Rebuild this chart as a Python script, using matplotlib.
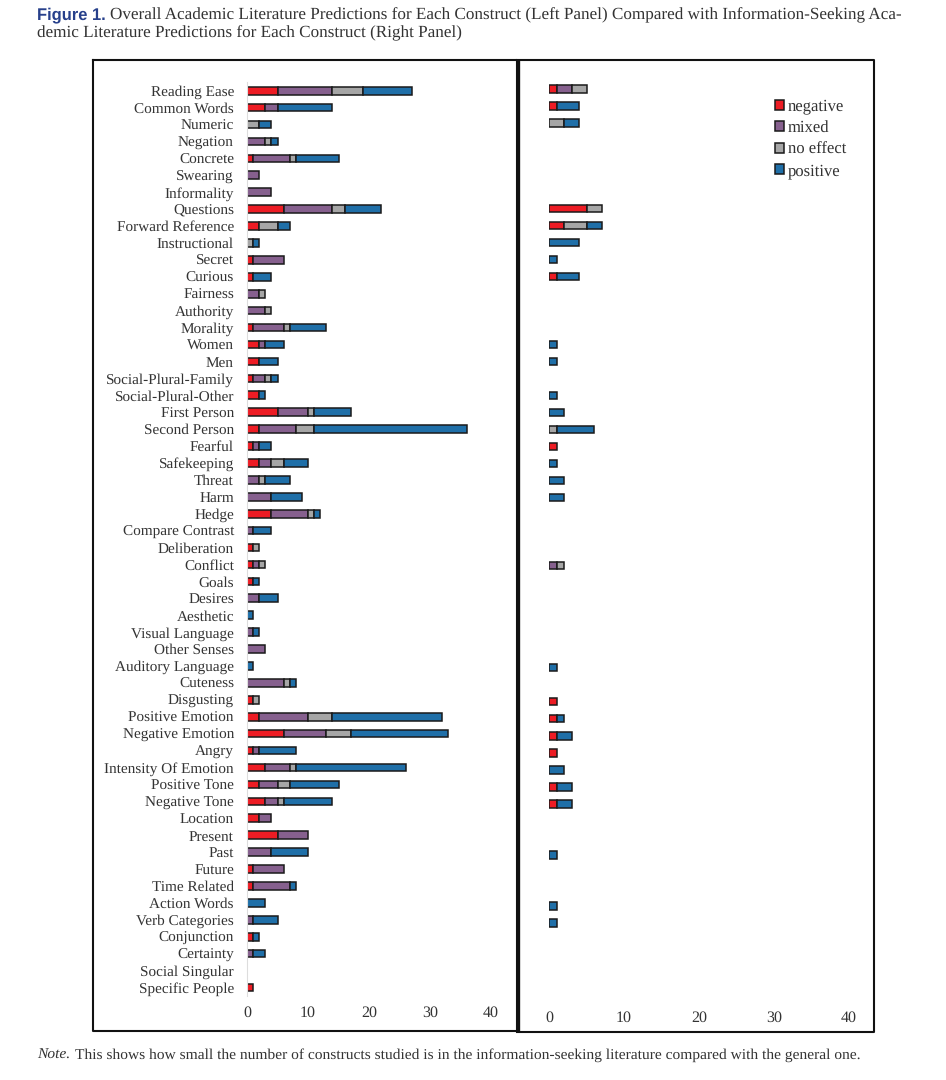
import numpy as np
import matplotlib
matplotlib.use("Agg")
import matplotlib.pyplot as plt
from matplotlib.patches import Patch

plt.rcParams["font.family"] = ["Liberation Serif", "DejaVu Serif"]
plt.rcParams["text.hinting"] = "no_hinting"

# Reihenfolge von oben nach unten
constructs = ["Reading Ease", "Common Words", "Numeric", "Negation", "Concrete", "Swearing",
              "Informality", "Questions", "Forward Reference", "Instructional", "Secret",
              "Curious", "Fairness", "Authority", "Morality", "Women", "Men",
              "Social-Plural-Family", "Social-Plural-Other", "First Person", "Second Person",
              "Fearful", "Safekeeping", "Threat", "Harm", "Hedge", "Compare Contrast",
              "Deliberation", "Conflict", "Goals", "Desires", "Aesthetic", "Visual Language",
              "Other Senses", "Auditory Language", "Cuteness", "Disgusting", "Positive Emotion",
              "Negative Emotion", "Angry", "Intensity Of Emotion", "Positive Tone",
              "Negative Tone", "Location", "Present", "Past", "Future", "Time Related",
              "Action Words", "Verb Categories", "Conjunction", "Certainty", "Social Singular",
              "Specific People"]

# Linkes Panel
left_negative = [5, 3, 0, 0, 1, 0, 0, 6, 2, 0, 1, 1, 0, 0, 1, 2, 2, 1, 2, 5, 2, 1, 2, 0, 0, 4, 0,
                 1, 1, 1, 0, 0, 0, 0, 0, 0, 1, 2, 6, 1, 3, 2, 3, 2, 5, 0, 1, 1, 0, 0, 1, 0, 0, 1]
left_mixed = [9, 2, 0, 3, 6, 2, 4, 8, 0, 0, 5, 0, 2, 3, 5, 1, 0, 2, 0, 5, 6, 1, 2, 2, 4, 6, 1,
              0, 1, 0, 2, 0, 1, 3, 0, 6, 0, 8, 7, 1, 4, 3, 2, 2, 5, 4, 5, 6, 0, 1, 0, 1, 0, 0]
left_noeffect = [5, 0, 2, 1, 1, 0, 0, 2, 3, 1, 0, 0, 1, 1, 1, 0, 0, 1, 0, 1, 3, 0, 2, 1, 0, 1, 0,
                 1, 1, 0, 0, 0, 0, 0, 0, 1, 1, 4, 4, 0, 1, 2, 1, 0, 0, 0, 0, 0, 0, 0, 0, 0, 0, 0]
left_positive = [8, 9, 2, 1, 7, 0, 0, 6, 2, 1, 0, 3, 0, 0, 6, 3, 3, 1, 1, 6, 25, 2, 4, 4, 5, 1, 3,
                 0, 0, 1, 3, 1, 1, 0, 1, 1, 0, 18, 16, 6, 18, 8, 8, 0, 0, 6, 0, 1, 3, 4, 1, 2, 0, 0]

# Rechtes Panel
right_negative = [1, 1, 0, 0, 0, 0, 0, 5, 2, 0, 0, 1, 0, 0, 0, 0, 0, 0, 0, 0, 0, 1, 0, 0, 0, 0, 0,
                  0, 0, 0, 0, 0, 0, 0, 0, 0, 1, 1, 1, 1, 0, 1, 1, 0, 0, 0, 0, 0, 0, 0, 0, 0, 0, 0]
right_mixed = [2, 0, 0, 0, 0, 0, 0, 0, 0, 0, 0, 0, 0, 0, 0, 0, 0, 0, 0, 0, 0, 0, 0, 0, 0, 0, 0,
               0, 1, 0, 0, 0, 0, 0, 0, 0, 0, 0, 0, 0, 0, 0, 0, 0, 0, 0, 0, 0, 0, 0, 0, 0, 0, 0]
right_noeffect = [2, 0, 2, 0, 0, 0, 0, 2, 3, 0, 0, 0, 0, 0, 0, 0, 0, 0, 0, 0, 1, 0, 0, 0, 0, 0, 0,
                  0, 1, 0, 0, 0, 0, 0, 0, 0, 0, 0, 0, 0, 0, 0, 0, 0, 0, 0, 0, 0, 0, 0, 0, 0, 0, 0]
right_positive = [0, 3, 2, 0, 0, 0, 0, 0, 2, 4, 1, 3, 0, 0, 0, 1, 1, 0, 1, 2, 5, 0, 1, 2, 2, 0, 0,
                  0, 0, 0, 0, 0, 0, 0, 1, 0, 0, 1, 2, 0, 2, 2, 2, 0, 0, 1, 0, 0, 1, 1, 0, 0, 0, 0]

effect_labels = ["negative", "mixed", "no effect", "positive"]
effect_colors = ["#ed1c24", "#86608e", "#a6a6a6", "#1f6fa8"]
x_ticks = [0, 10, 20, 30, 40]

W, H = 946, 1080
TEXT = "#333333"
EDGE = "#1a1a1a"


def px_axes(fig, x0, y0, x1, y1):
    # Pixelkoordinaten von oben links
    return fig.add_axes([x0 / W, 1 - y1 / H, (x1 - x0) / W, (y1 - y0) / H])


def draw_panel(ax, series, show_labels, tick_pad):
    y = np.arange(len(constructs))
    start = np.zeros(len(constructs))
    for vals, col in zip(series, effect_colors):
        vals = np.array(vals, dtype=float)
        # Nullwerte auslassen, sonst zeichnet der Rand einen Strich
        keep = vals > 0
        ax.barh(y[keep], vals[keep], left=start[keep], height=0.45, color=col,
                edgecolor=EDGE, linewidth=1.1)
        start += vals
    ax.set_ylim(len(constructs) - 0.5, -0.5)
    ax.set_xticks(x_ticks)
    ax.tick_params(axis="x", length=0, labelsize=11.5, labelcolor=TEXT, pad=tick_pad)
    ax.patch.set_visible(False)
    for s in ax.spines.values():
        s.set_visible(False)
    if show_labels:
        ax.set_yticks(y)
        ax.set_yticklabels(constructs, fontsize=11, color=TEXT)
        ax.tick_params(axis="y", length=0, pad=9.4)
        ax.spines["left"].set_visible(True)
        ax.spines["left"].set_color("#dddddd")
    else:
        ax.set_yticks([])


fig = plt.figure(figsize=(W / 100, H / 100), dpi=100)

# Rahmen der beiden Panels
frame = fig.add_axes([0, 0, 1, 1])
frame.set_xlim(0, W)
frame.set_ylim(H, 0)
frame.axis("off")
frame.plot([93, 517, 517, 93, 93], [60, 60, 1031, 1031, 60], color="#111111", lw=1.5)
frame.plot([517, 874, 874, 517], [60, 60, 1032, 1032], color="#111111", lw=1.5)
frame.plot([517.5, 517.5], [60, 1032], color="#111111", lw=2.4, solid_capstyle="butt")

# Zeilen links: Mitte der ersten bei 90.7, Abstand 16.92
n = len(constructs)
row_l = 16.92
ax_left = px_axes(fig, 247, 90.7 - row_l / 2, 491, 90.7 + (n - 0.5) * row_l)
ax_left.set_xlim(0, 40)
draw_panel(ax_left, [left_negative, left_mixed, left_noeffect, left_positive], True, 7.4)

# Rechts etwas anderer Zeilenabstand
row_r = 17.01
ax_right = px_axes(fig, 549, 89.3 - row_r / 2, 849, 89.3 + (n - 0.5) * row_r)
ax_right.set_xlim(0, 40)
draw_panel(ax_right, [right_negative, right_mixed, right_noeffect, right_positive], False, 8)

handles = [Patch(facecolor=c, edgecolor=EDGE, linewidth=1.1) for c in effect_colors]
fig.legend(handles, effect_labels, loc="upper left", bbox_to_anchor=(775 / W, 1 - 99 / H),
           frameon=False, fontsize=12, labelcolor=TEXT, handlelength=0.55, handleheight=0.55,
           handletextpad=0.22, labelspacing=0.36, borderpad=0, borderaxespad=0)

# Titel und Anmerkung
fig.text(37 / W, 1 - 15 / H, "Figure 1.", family="Liberation Sans", weight="bold", fontsize=11.9,
         color="#27408b", va="center")
fig.text(110 / W, 1 - 15 / H,
         "Overall Academic Literature Predictions for Each Construct (Left Panel) Compared with Information-Seeking Aca-",
         fontsize=12.33, color=TEXT, va="center")
fig.text(37 / W, 1 - 33 / H, "demic Literature Predictions for Each Construct (Right Panel)",
         fontsize=12.33, color=TEXT, va="center")
fig.text(37 / W, 1 - 1055 / H, "Note.", style="italic", fontsize=11.15, color=TEXT, va="center")
fig.text(75 / W, 1 - 1055 / H,
         "This shows how small the number of constructs studied is in the information-seeking literature compared with the general one.",
         fontsize=11.15, color=TEXT, va="center")

fig.savefig("out.png", dpi=100)
